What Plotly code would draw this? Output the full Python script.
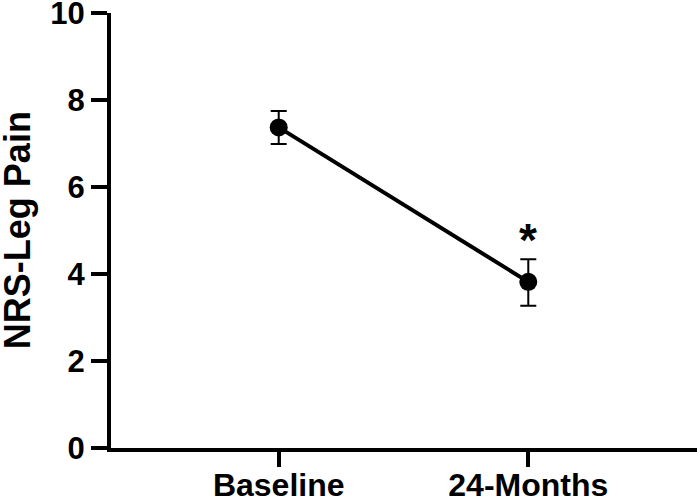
import plotly.graph_objects as go

categories = ["Baseline", "24-Months"]
means = [7.37, 3.82]
err_upper = [0.38, 0.52]
err_lower = [0.38, 0.55]
y_ticks = [0, 2, 4, 6, 8, 10]
y_title = "NRS-Leg Pain"
sig_marker = "*"
sig_y = 4.78

xpos = list(range(len(categories)))

fig = go.Figure()
fig.add_trace(go.Scatter(
    x=xpos, y=means, mode="lines+markers",
    line=dict(color="black", width=4),
    marker=dict(color="black", size=18),
    error_y=dict(type="data", array=err_upper, arrayminus=err_lower,
                 color="black", thickness=2, width=8, symmetric=False),
    showlegend=False,
))

fig.add_annotation(x=xpos[1], y=sig_y, text=sig_marker, showarrow=False,
                   font=dict(family="Liberation Sans", size=46, color="black", weight="bold"),
                   xanchor="center", yanchor="middle")

fig.add_annotation(xref="paper", yref="paper", x=-0.196, y=0.5, text=y_title,
                   textangle=-90, showarrow=False, xanchor="left", yanchor="middle",
                   borderpad=0,
                   font=dict(family="Liberation Sans", size=36, color="black", weight="bold"))

yfont = dict(family="Liberation Sans", size=31, color="black", weight="bold")
xfont = dict(family="Liberation Sans", size=32, color="black", weight="bold")
fig.update_layout(
    width=700, height=502,
    margin=dict(l=111, r=3, t=13, b=54),
    plot_bgcolor="white", paper_bgcolor="white",
    font=yfont,
    xaxis=dict(range=[-0.672, 1.676], tickvals=xpos, ticktext=categories,
               showline=True, linecolor="black", linewidth=4,
               ticks="outside", ticklen=15, tickwidth=4, tickcolor="black",
               showgrid=False, zeroline=False, tickfont=xfont,
               automargin=False, ticklabeloverflow="allow", ticklabelstandoff=-9),
    yaxis=dict(range=[0, 10], tickvals=y_ticks,
               showline=True, linecolor="black", linewidth=4,
               ticks="outside", ticklen=16, tickwidth=4, tickcolor="black",
               showgrid=False, zeroline=False, tickfont=yfont,
               automargin=False, ticklabeloverflow="allow"),
)
fig.write_html("out.html")
